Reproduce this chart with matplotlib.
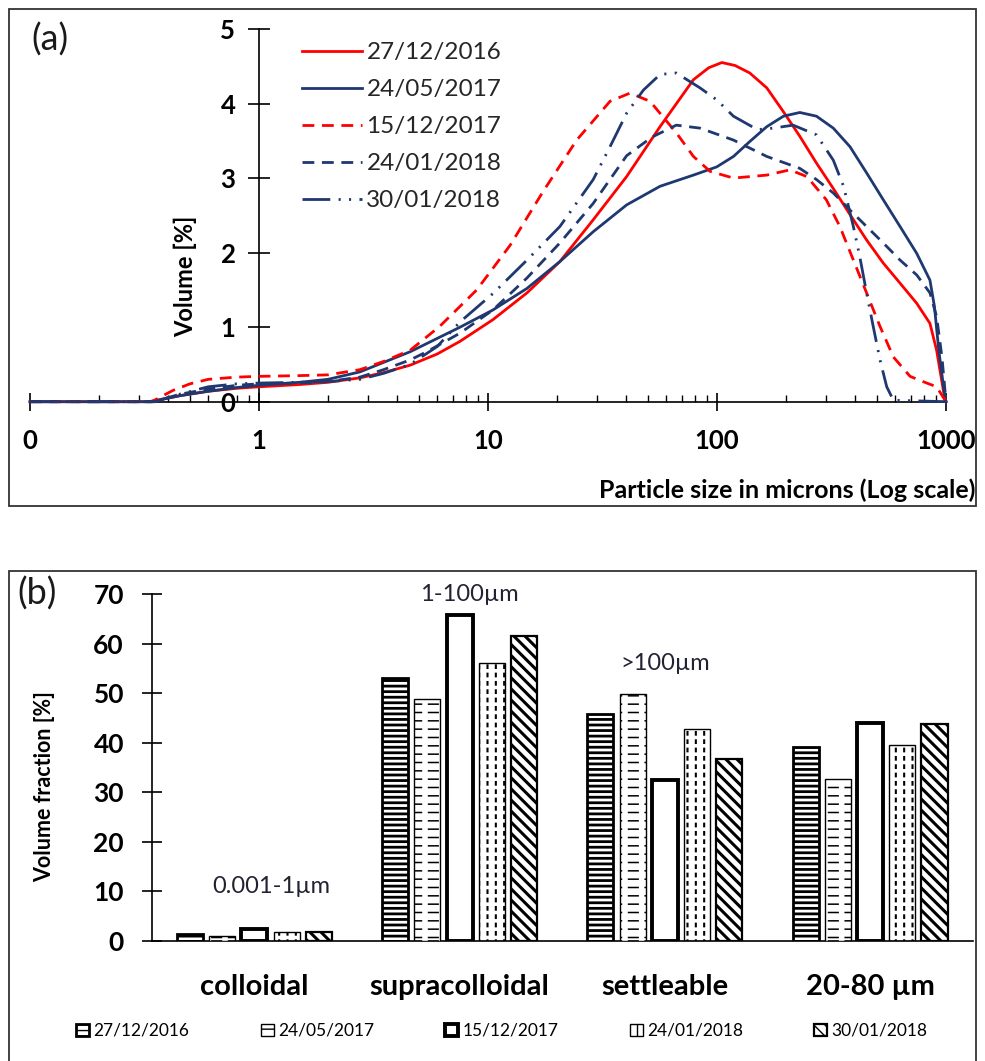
import numpy as np
import matplotlib
matplotlib.use("Agg")
import matplotlib.pyplot as plt
import matplotlib.patches as mpatches
from matplotlib.ticker import FixedLocator, LogLocator, NullFormatter

plt.rcParams['font.family'] = ['Lato', 'DejaVu Sans']
plt.rcParams['lines.scale_dashes'] = False

# ---------------- data ----------------
dates = ["27/12/2016", "24/05/2017", "15/12/2017", "24/01/2018", "30/01/2018"]

# (a) particle size distributions, size in microns, volume in %
size_2016_12 = [0.1, 0.33, 0.45, 0.6, 0.8, 1.0, 1.5, 2.0, 2.76, 3.5, 4.57, 6.0, 7.55, 10.5, 14.8,
                20.6, 28.8, 40.3, 56.4, 78.9, 92, 105, 120, 139, 165, 195, 230, 272, 322, 381, 450,
                532, 630, 745, 851, 910, 990, 1000]
vol_2016_12 = [0, 0, 0.08, 0.14, 0.18, 0.20, 0.23, 0.26, 0.32, 0.39, 0.49, 0.64, 0.81, 1.10, 1.46,
               1.88, 2.44, 3.02, 3.69, 4.32, 4.48, 4.55, 4.51, 4.41, 4.21, 3.89, 3.56, 3.20, 2.86, 2.51,
               2.17, 1.86, 1.59, 1.32, 1.05, 0.69, 0.02, 0]

size_2017_05 = [0.1, 0.34, 0.45, 0.6, 0.8, 1.0, 1.5, 2.0, 2.76, 4.57, 7.55, 10.5, 14.8, 20.6, 28.8,
                40.3, 56.4, 78.9, 99.7, 118, 139, 165, 195, 230, 272, 322, 381, 450, 532, 630,
                745, 851, 890, 930, 990, 1000]
vol_2017_05 = [0, 0, 0.08, 0.14, 0.19, 0.22, 0.26, 0.30, 0.40, 0.67, 1.0, 1.23, 1.52, 1.88, 2.28,
               2.64, 2.89, 3.04, 3.15, 3.29, 3.49, 3.69, 3.83, 3.88, 3.83, 3.67, 3.42, 3.07, 2.71, 2.35,
               1.99, 1.63, 1.28, 0.69, 0.05, 0]

size_2017_12 = [0.1, 0.34, 0.42, 0.5, 0.6, 0.8, 1.0, 1.5, 2.0, 2.76, 3.5, 4.57, 6.15, 8.93, 12.5,
                17.4, 24.4, 34.1, 41.7, 51, 66.7, 78.9, 93.3, 118, 165, 208, 247, 300, 344, 394,
                450, 515, 589, 697, 824, 910, 1000]
vol_2017_12 = [0, 0, 0.15, 0.24, 0.30, 0.33, 0.34, 0.35, 0.36, 0.43, 0.54, 0.69, 1.01, 1.50, 2.10,
               2.82, 3.51, 4.03, 4.14, 4.03, 3.60, 3.29, 3.09, 3.00, 3.04, 3.11, 3.02, 2.71, 2.35, 1.90,
               1.46, 1.01, 0.60, 0.34, 0.25, 0.20, 0]

size_2018_01a = [0.1, 0.35, 0.45, 0.6, 0.8, 1.0, 1.5, 2.0, 2.76, 3.5, 4.57, 5.4, 7.55, 10.5, 14.8,
                 20.6, 28.8, 40.3, 52, 66.4, 84.3, 118, 165, 230, 272, 322, 381, 450, 532, 630,
                 745, 851, 910, 960, 1000]
vol_2018_01a = [0, 0, 0.10, 0.17, 0.22, 0.24, 0.25, 0.27, 0.33, 0.43, 0.56, 0.67, 0.92, 1.23, 1.66,
                2.13, 2.66, 3.30, 3.55, 3.71, 3.67, 3.51, 3.29, 3.13, 2.98, 2.80, 2.57, 2.35, 2.13, 1.90,
                1.70, 1.46, 1.14, 0.60, 0]

size_2018_01b = [0.1, 0.35, 0.45, 0.6, 0.8, 1.0, 1.5, 2.0, 2.76, 3.5, 4.57, 6.0, 7.55, 10.5, 14.8,
                 20.6, 28.8, 34.1, 40.3, 47.7, 56.4, 66.4, 84.3, 99.7, 118, 150, 176, 215, 272, 322,
                 357, 394, 420, 450, 481, 515, 551, 589, 1000]
vol_2018_01b = [0, 0, 0.10, 0.20, 0.24, 0.25, 0.26, 0.27, 0.30, 0.38, 0.50, 0.74, 1.07, 1.45, 1.90,
                2.35, 2.98, 3.42, 3.87, 4.18, 4.39, 4.41, 4.21, 4.05, 3.83, 3.65, 3.67, 3.71, 3.58, 3.24,
                2.89, 2.35, 1.95, 1.46, 1.01, 0.56, 0.20, 0.02, 0]

# (b) volume fraction per size class, one list per date
classes = ["colloidal", "supracolloidal", "settleable", "20-80 \u00b5m"]
frac_2016_12 = [1.3, 53.1, 45.8, 39.2]
frac_2017_05 = [0.9, 48.9, 49.9, 32.6]
frac_2017_12 = [2.3, 65.7, 32.4, 43.9]
frac_2018_01a = [1.8, 56.0, 42.7, 39.5]
frac_2018_01b = [1.7, 61.5, 36.7, 43.7]

ranges = ["0.001-1\u00b5m", "1-100\u00b5m", ">100\u00b5m"]

# ---------------- figure ----------------
W, H = 985, 1061
fig = plt.figure(figsize=(W / 100, H / 100), dpi=100)


def fx(px):
    return px / W


def fy(py):
    return 1 - py / H


red = '#ff0000'
navy = '#1f3870'
dash = (0, (8.5, 5.5))
dashdotdot = (0, (20, 6, 1.5, 6, 1.5, 6))

# ---------------- panel (a) ----------------
ax1 = fig.add_axes([fx(30), fy(401.7), fx(946) - fx(30), fy(29) - fy(401.7)])
ax1.set_xscale('log')

curves = [
    (size_2016_12, vol_2016_12, red, '-'),
    (size_2017_05, vol_2017_05, navy, '-'),
    (size_2017_12, vol_2017_12, red, dash),
    (size_2018_01a, vol_2018_01a, navy, dash),
    (size_2018_01b, vol_2018_01b, navy, dashdotdot),
]
for (xs, ys, c, ls), lab in zip(curves, dates):
    ax1.plot(xs, ys, color=c, linestyle=ls, lw=2.0, label=lab, clip_on=False, zorder=3)

ax1.set_xlim(0.1, 1000)
ax1.set_ylim(0, 5)
for s in ('top', 'right'):
    ax1.spines[s].set_visible(False)
ax1.spines['left'].set_position(('data', 1))
ax1.spines['left'].set_linewidth(1.2)
ax1.spines['bottom'].set_linewidth(1.2)

ax1.xaxis.set_major_locator(FixedLocator([0.1, 1, 10, 100, 1000]))
ax1.set_xticklabels(['0', '1', '10', '100', '1000'])
ax1.xaxis.set_minor_locator(LogLocator(base=10, subs=np.arange(2, 10)))
ax1.xaxis.set_minor_formatter(NullFormatter())
ax1.tick_params(axis='x', which='major', direction='inout', length=13, width=1.2, pad=13,
                labelsize=18.5)
ax1.tick_params(axis='x', which='minor', direction='in', length=5, width=1.0)
ax1.set_yticks([0, 1, 2, 3, 4, 5])
ax1.tick_params(axis='y', direction='inout', length=16, width=1.2, pad=9, labelsize=18.5)
for t in ax1.get_xticklabels() + ax1.get_yticklabels():
    t.set_fontweight('bold')

leg1 = ax1.legend(loc='upper left', bbox_to_anchor=(fx(302), fy(42)), bbox_transform=fig.transFigure,
                  frameon=False, fontsize=17.5, handlelength=2.45, handletextpad=0.2,
                  labelspacing=0.66, borderaxespad=0, borderpad=0)
for t in leg1.get_texts():
    t.set_color('#262626')

fig.text(fx(50), fy(40), '(a)', fontsize=26, color='#1a1a1a', ha='center', va='center')
fig.text(fx(185), fy(276), 'Volume [%]', rotation=90, fontsize=17, fontweight='bold',
         ha='center', va='center')
fig.text(fx(975), fy(490), 'Particle size in microns (Log scale)', fontsize=18,
         fontweight='bold', ha='right', va='center')

# ---------------- panel (b) ----------------
ax2 = fig.add_axes([fx(151.7), fy(940.7), fx(972.7) - fx(151.7), fy(594) - fy(940.7)])
ax2.set_xlim(-0.5, 3.5)
ax2.set_ylim(0, 70)

fracs = [frac_2016_12, frac_2017_05, frac_2017_12, frac_2018_01a, frac_2018_01b]
hatches = ['---', '--', None, '||', '\\\\\\']
overlays = [None, '|', None, '--', None]
overlay_lw = [0, 4.0, 0, 2.6, 0]
hatch_lw = [2.0, 1.1, 1.0, 1.5, 2.2]
edge_lw = [2.0, 1.0, 2.8, 1.0, 1.6]

pos = np.arange(len(classes))
step, width = 0.157, 0.127


def set_hlw(bars, lw):
    for b in bars:
        if hasattr(b, 'set_hatch_linewidth'):
            b.set_hatch_linewidth(lw)


for i, vals in enumerate(fracs):
    xs = pos + (i - 2) * step
    with plt.rc_context({'hatch.linewidth': hatch_lw[i]}):
        base = ax2.bar(xs, vals, width, color='white', edgecolor='black', linewidth=0,
                       hatch=hatches[i], zorder=2)
    set_hlw(base, hatch_lw[i])
    if overlays[i]:
        # white strokes break the hatch lines into dashes
        with plt.rc_context({'hatch.linewidth': overlay_lw[i]}):
            ov = ax2.bar(xs, vals, width, color='none', edgecolor='white', linewidth=0,
                         hatch=overlays[i], zorder=3)
        set_hlw(ov, overlay_lw[i])
    ax2.bar(xs, vals, width, fill=False, edgecolor='black', linewidth=edge_lw[i], zorder=4)

for s in ('top', 'right'):
    ax2.spines[s].set_visible(False)
ax2.spines['left'].set_linewidth(1.2)
ax2.spines['bottom'].set_linewidth(1.2)
ax2.set_yticks(np.arange(0, 71, 10))
ax2.tick_params(axis='y', direction='inout', length=14, width=1.2, pad=13, labelsize=19)
ax2.set_xticks(pos)
ax2.set_xticklabels(classes)
ax2.tick_params(axis='x', length=0, pad=24, labelsize=21)
for t in ax2.get_xticklabels() + ax2.get_yticklabels():
    t.set_fontweight('bold')

ann_x = [0.083, 1.048, 2.0]
ann_y = [11.0, 69.8, 55.9]
for lab, x, y in zip(ranges, ann_x, ann_y):
    ax2.text(x, y, lab, fontsize=17, color='#222233', ha='center', va='center')

fig.text(fx(45), fy(787), 'Volume fraction [%]', rotation=90, fontsize=15.5, fontweight='bold',
         ha='center', va='center')
fig.text(fx(37), fy(594), '(b)', fontsize=26, color='#1a1a1a', ha='center', va='center')

handles = []
for i in range(len(dates)):
    handles.append(mpatches.Patch(facecolor='white', edgecolor='black', linewidth=edge_lw[i],
                                  hatch=hatches[i]))
fig.legend(handles, dates, loc='center', bbox_to_anchor=(fx(502), fy(1031)), ncol=5,
           frameon=False, fontsize=12.5, handlelength=0.75, handleheight=0.75, handletextpad=0.25,
           columnspacing=4.1)

# panel frames
fig.patches.append(mpatches.Rectangle((fx(8.5), fy(506.5)), fx(975.5) - fx(8.5), fy(9) - fy(506.5),
                                      transform=fig.transFigure, fill=False, lw=1.3,
                                      edgecolor='#333333'))
fig.patches.append(mpatches.Rectangle((fx(8.5), fy(1070)), fx(975.5) - fx(8.5), fy(570.5) - fy(1070),
                                      transform=fig.transFigure, fill=False, lw=1.3,
                                      edgecolor='#333333'))

fig.savefig('out.png', dpi=100)
